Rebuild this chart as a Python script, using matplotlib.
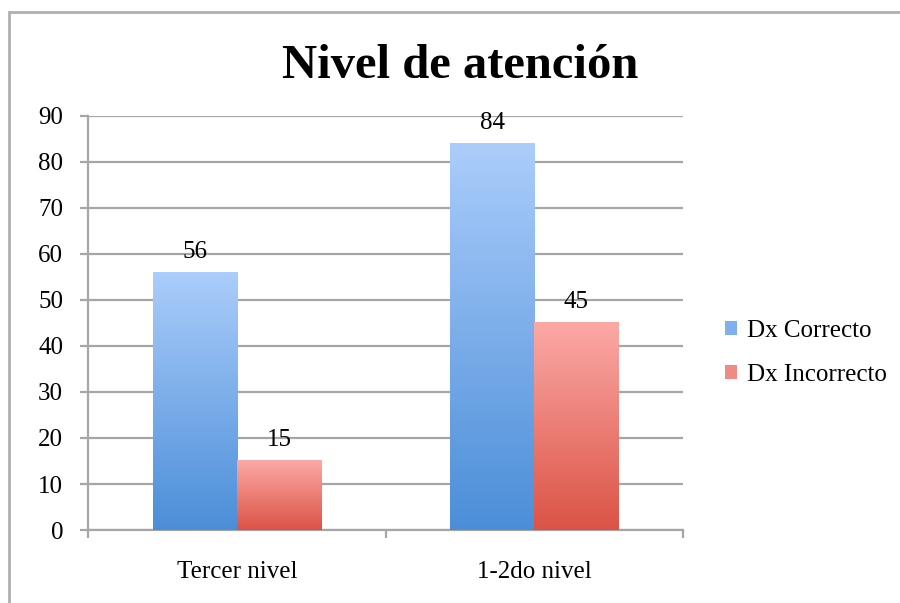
import numpy as np
import matplotlib.pyplot as plt
from matplotlib.patches import Rectangle, Patch
from matplotlib.colors import LinearSegmentedColormap

plt.rcParams['font.family'] = ['Liberation Serif', 'DejaVu Serif']

categories = ['Tercer nivel', '1-2do nivel']
series_names = ['Dx Correcto', 'Dx Incorrecto']
correcto = [56, 84]
incorrecto = [15, 45]
y_ticks = [0, 10, 20, 30, 40, 50, 60, 70, 80, 90]

blue_top, blue_bot = '#abcdfb', '#4b8ed8'
red_top, red_bot = '#fca9a6', '#db5346'

fig = plt.figure(figsize=(9, 6.03), dpi=100)
ax = fig.add_axes([0.098, 0.121, 0.661, 0.687])

# grey frame around the chart (only top and left visible)
fig.patches.append(Rectangle((0.010, -0.05), 1.2, 1.03, transform=fig.transFigure,
                             fill=False, edgecolor='#b0b0b0', linewidth=2))

x = np.arange(len(categories))
w = 0.283


def gradient_bars(bars, top, bot):
    cmap = LinearSegmentedColormap.from_list('g', [bot, top])
    grad = np.linspace(0, 1, 256).reshape(-1, 1)
    for b in bars:
        x0, y0 = b.get_x(), b.get_y()
        ax.imshow(grad, cmap=cmap, aspect='auto', origin='lower',
                  extent=(x0, x0 + b.get_width(), y0, y0 + b.get_height()), zorder=3)
        b.set_visible(False)


b1 = ax.bar(x - w / 2, correcto, w, color=blue_bot)
b2 = ax.bar(x + w / 2, incorrecto, w, color=red_bot)
gradient_bars(b1, blue_top, blue_bot)
gradient_bars(b2, red_top, red_bot)

for bars, vals in ((b1, correcto), (b2, incorrecto)):
    for b, v in zip(bars, vals):
        ax.annotate(str(v), (b.get_x() + b.get_width() / 2, v), xytext=(0, 7),
                    textcoords='offset points', ha='center', va='bottom', fontsize=18)

ax.set_xlim(-0.5, len(categories) - 0.5)
ax.set_ylim(0, 90)
ax.set_yticks(y_ticks)
ax.yaxis.grid(True, color='#a6a6a6', linewidth=1.6, zorder=0)
ax.set_axisbelow(True)

for s in ['top', 'right']:
    ax.spines[s].set_visible(False)
ax.spines['left'].set_color('#a6a6a6')
ax.spines['bottom'].set_color('#a6a6a6')
ax.spines['left'].set_linewidth(1.6)
ax.spines['bottom'].set_linewidth(1.6)

ax.tick_params(axis='y', length=6, width=1.6, color='#a6a6a6', pad=12, labelsize=18)
ax.set_xticks(x)
ax.set_xticklabels(categories)
ax.set_xticks(np.arange(-0.5, len(categories)), minor=True)
ax.tick_params(axis='x', which='major', length=0, pad=22, labelsize=18)
ax.tick_params(axis='x', which='minor', length=6, width=1.6, color='#a6a6a6')

fig.text(0.511, 0.890, 'Nivel de atención', ha='center', va='center',
         fontsize=35, fontweight='bold')

handles = [Patch(facecolor='#7fb0ee', edgecolor='none'),
           Patch(facecolor='#ef8a84', edgecolor='none')]
fig.legend(handles, series_names, loc='center left', bbox_to_anchor=(0.78, 0.415),
           frameon=False, fontsize=18, handlelength=0.5, handleheight=0.5,
           handletextpad=0.4, labelspacing=0.9)

fig.savefig('out.png', dpi=100)
